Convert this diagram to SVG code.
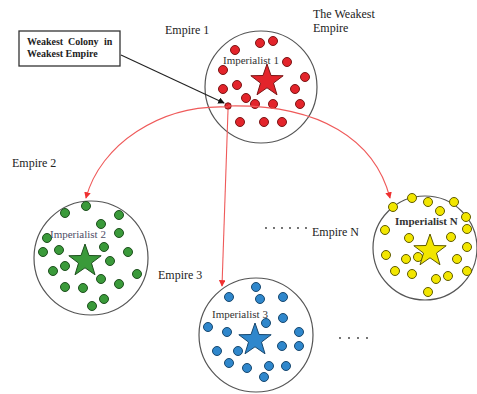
<svg xmlns="http://www.w3.org/2000/svg" width="477" height="394" viewBox="0 0 477 394">
<style>
text{font-family:"Liberation Serif","Times New Roman",serif;fill:#222}
.lbl{font-size:12px}
.imp{font-size:11px;fill:#333}
.ring{fill:none;stroke:#555;stroke-width:1.2}
.r{fill:#e3242b;stroke:#7a1515;stroke-width:1}
.g{fill:#3a9a3a;stroke:#1d4f1d;stroke-width:1}
.b{fill:#2f87cc;stroke:#17476e;stroke-width:1}
.y{fill:#f2e600;stroke:#5e5a00;stroke-width:1}
.red{fill:none;stroke:#ef5a5a;stroke-width:1.1}
.dot{fill:#333}
</style>
<defs>
<path id="star" d="M0,-17 L4,-5.5 16.17,-5.25 6.47,2.1 9.99,13.75 0,6.8 -9.99,13.75 -6.47,2.1 -16.17,-5.25 -4,-5.5Z"/>
<marker id="ar" viewBox="0 0 8 8" refX="7" refY="4" markerWidth="6" markerHeight="6" orient="auto"><path d="M0,0 L8,4 L0,8Z" fill="#ef3030"/></marker>
<marker id="ak" viewBox="0 0 8 8" refX="7" refY="4" markerWidth="6" markerHeight="6" orient="auto"><path d="M0,0 L8,4 L0,8Z" fill="#111"/></marker>
</defs>
<rect width="477" height="394" fill="#fff"/>

<g id="labels">
<text class="lbl" x="165" y="34">Empire 1</text>
<text class="lbl" x="313" y="18">The Weakest</text>
<text class="lbl" x="313" y="32">Empire</text>
<text class="lbl" x="12" y="167">Empire 2</text>
<text class="lbl" x="158" y="279">Empire 3</text>
<text class="lbl" x="312" y="236">Empire N</text>
<g class="dot">
<circle cx="266" cy="228" r="0.9"/><circle cx="274" cy="228" r="0.9"/><circle cx="282" cy="228" r="0.9"/>
<circle cx="290" cy="228" r="0.9"/><circle cx="298" cy="228" r="0.9"/><circle cx="306" cy="228" r="0.9"/>
<circle cx="340" cy="338" r="0.9"/><circle cx="349" cy="338" r="0.9"/><circle cx="358" cy="338" r="0.9"/><circle cx="367" cy="338" r="0.9"/>
</g>
</g>

<g id="note">
<rect x="19" y="31" width="101" height="35" fill="#fff" stroke="#333" stroke-width="1.3"/>
<text font-size="10" font-weight="bold" x="27" y="45">Weakest</text>
<text font-size="10" font-weight="bold" x="68" y="45">Colony</text>
<text font-size="10" font-weight="bold" x="104" y="45">in</text>
<text font-size="10" font-weight="bold" x="27" y="57">Weakest Empire</text>
</g>

<g id="empire1">
<circle class="ring" cx="261" cy="87" r="56"/>
<g class="r">
<circle cx="260" cy="43" r="4.5"/><circle cx="273" cy="41" r="4.5"/><circle cx="235" cy="50" r="4.5"/>
<circle cx="287" cy="62" r="4.5"/><circle cx="223" cy="70" r="4.5"/><circle cx="305" cy="77" r="4.5"/>
<circle cx="237" cy="85" r="4.5"/><circle cx="223" cy="89" r="4.5"/><circle cx="295" cy="89" r="4.5"/>
<circle cx="246" cy="98" r="4.5"/><circle cx="255" cy="104" r="4.5"/><circle cx="273" cy="104" r="4.5"/>
<circle cx="300" cy="104" r="4.5"/><circle cx="228" cy="106" r="3.2"/>
<circle cx="240" cy="122" r="4.5"/><circle cx="264" cy="122" r="4.5"/><circle cx="282" cy="122" r="4.5"/>
<use href="#star" x="267" y="81"/>
</g>
<text class="imp" x="223" y="64">Imperialist 1</text>
</g>

<g id="empire2">
<circle class="ring" cx="91" cy="258" r="57"/>
<g class="g">
<circle cx="86" cy="206" r="4.5"/><circle cx="65" cy="213" r="4.5"/><circle cx="119" cy="215" r="4.5"/>
<circle cx="101" cy="224" r="4.5"/><circle cx="119" cy="233" r="4.5"/><circle cx="47" cy="238" r="4.5"/>
<circle cx="43" cy="252" r="4.5"/><circle cx="59" cy="250" r="4.5"/><circle cx="104" cy="247" r="4.5"/>
<circle cx="128" cy="252" r="4.5"/><circle cx="110" cy="261" r="4.5"/><circle cx="65" cy="266" r="4.5"/>
<circle cx="53" cy="271" r="4.5"/><circle cx="137" cy="274" r="4.5"/><circle cx="101" cy="279" r="4.5"/>
<circle cx="119" cy="284" r="4.5"/><circle cx="65" cy="287" r="4.5"/><circle cx="83" cy="288" r="4.5"/>
<circle cx="104" cy="299" r="4.5"/><circle cx="92" cy="306" r="4.5"/>
<use href="#star" x="85" y="261"/>
</g>
<text class="imp" x="50" y="238" style="fill:#4d4d66">Imperialist 2</text>
</g>

<g id="empire3">
<circle class="ring" cx="256" cy="335" r="57"/>
<g class="b">
<circle cx="256" cy="287" r="4.5"/><circle cx="229" cy="297" r="4.5"/><circle cx="260" cy="299" r="4.5"/>
<circle cx="283" cy="297" r="4.5"/><circle cx="266" cy="323" r="4.5"/><circle cx="283" cy="318" r="4.5"/>
<circle cx="208" cy="327" r="4.5"/><circle cx="227" cy="332" r="4.5"/><circle cx="299" cy="332" r="4.5"/>
<circle cx="299" cy="346" r="4.5"/><circle cx="282" cy="346" r="4.5"/><circle cx="217" cy="351" r="4.5"/>
<circle cx="238" cy="351" r="4.5"/><circle cx="229" cy="363" r="4.5"/><circle cx="247" cy="368" r="4.5"/>
<circle cx="269" cy="366" r="4.5"/><circle cx="286" cy="366" r="4.5"/><circle cx="264" cy="377" r="4.5"/>
<use href="#star" x="255" y="340"/>
</g>
<text class="imp" x="212" y="318">Imperialist 3</text>
</g>

<g id="empireN">
<circle class="ring" cx="425" cy="248" r="52"/>
<g class="y">
<circle cx="412" cy="198" r="4.5"/><circle cx="428" cy="202" r="4.5"/><circle cx="393" cy="207" r="4.5"/>
<circle cx="454" cy="202" r="4.5"/><circle cx="440" cy="211" r="4.5"/><circle cx="466" cy="217" r="4.5"/>
<circle cx="385" cy="230" r="4.5"/><circle cx="467" cy="229" r="4.5"/><circle cx="409" cy="238" r="4.5"/>
<circle cx="451" cy="237" r="4.5"/><circle cx="467" cy="247" r="4.5"/><circle cx="386" cy="255" r="4.5"/>
<circle cx="406" cy="259" r="4.5"/><circle cx="418" cy="257" r="4.5"/><circle cx="457" cy="259" r="4.5"/>
<circle cx="395" cy="271" r="4.5"/><circle cx="412" cy="274" r="4.5"/><circle cx="436" cy="279" r="4.5"/>
<circle cx="448" cy="276" r="4.5"/><circle cx="467" cy="271" r="4.5"/><circle cx="428" cy="292" r="4.5"/>
<use href="#star" x="430" y="251"/>
</g>
<text class="imp" x="395" y="225" style="font-weight:bold">Imperialist N</text>
</g>

<g id="connectors">
<line x1="121" y1="55" x2="224" y2="103" stroke="#222" stroke-width="1.1" marker-end="url(#ak)"/>
<path class="red" d="M228,107 C160,104 100,145 86,198" marker-end="url(#ar)"/>
<path class="red" d="M228,110 L222,286" marker-end="url(#ar)"/>
<path class="red" d="M228,106 C320,104 375,140 390,198" marker-end="url(#ar)"/>
</g>
</svg>
